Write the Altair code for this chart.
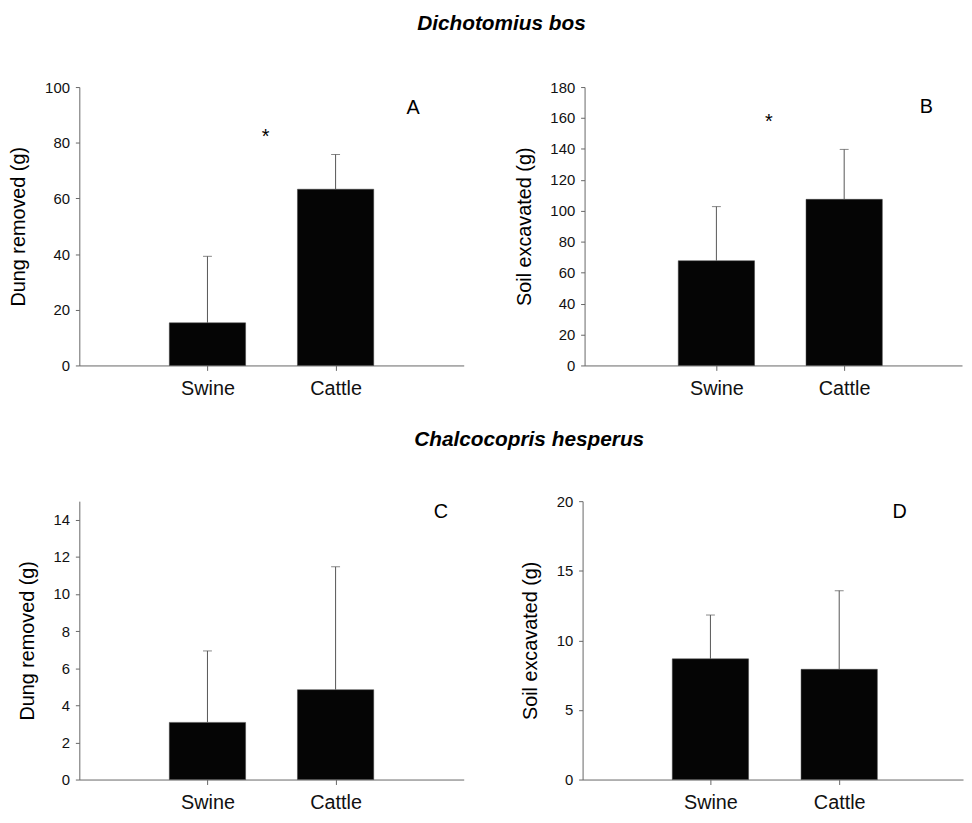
import altair as alt
import pandas as pd

categories = ["Swine", "Cattle"]

# Dichotomius bos
dung_bos_mean = [15.3, 63.3]
dung_bos_upper = [39.2, 75.8]
soil_bos_mean = [67.7, 107.4]
soil_bos_upper = [102.7, 139.7]

# Chalcocopris hesperus
dung_hes_mean = [3.08, 4.84]
dung_hes_upper = [6.93, 11.46]
soil_hes_mean = [8.67, 7.92]
soil_hes_upper = [11.82, 13.57]

FONT = "Liberation Sans"
AXIS_GRAY = "#666666"
ERR_GRAY = "#555555"


def panel(means, uppers, ytitle, ymax, ticks, letter, letter_px, star_px, width, padding, align):
    df = pd.DataFrame({"cat": categories, "mean": means, "upper": uppers})
    xenc = alt.X(
        "cat:N", sort=categories, title=None,
        scale=alt.Scale(type="point", padding=padding, align=align),
        axis=alt.Axis(labelAngle=0, labelFontSize=20, labelFont=FONT, labelColor="#111111",
                      labelPadding=8, tickSize=5, tickColor=AXIS_GRAY, domainColor=AXIS_GRAY,
                      domainWidth=1, tickWidth=1),
    )
    yscale = alt.Scale(domain=[0, ymax], nice=False, zero=True)
    yaxis = alt.Axis(values=ticks, grid=False, labelOverlap=False, labelFontSize=15, labelFont=FONT,
                     labelColor="#111111", labelPadding=6, tickSize=4, tickColor=AXIS_GRAY,
                     domainColor=AXIS_GRAY, domainWidth=1, tickWidth=1,
                     titleFontSize=20, titleFont=FONT, titleFontWeight="normal",
                     titleColor="#000000", titlePadding=16)
    y_mean = alt.Y("mean:Q", title=ytitle, scale=yscale, axis=yaxis)
    y_upper = alt.Y("upper:Q", title=ytitle, scale=yscale, axis=yaxis)
    base = alt.Chart(df)
    bars = base.mark_bar(size=77, color="#050505", stroke="#444444", strokeWidth=0.5).encode(x=xenc, y=y_mean)
    rule = base.mark_rule(color=ERR_GRAY, strokeWidth=1).encode(x=xenc, y=y_mean, y2="upper:Q")
    cap = base.mark_tick(color=ERR_GRAY, size=9, thickness=1, orient="horizontal").encode(x=xenc, y=y_upper)
    layers = [bars, rule, cap]
    lab = alt.Chart(pd.DataFrame({"t": [letter]})).mark_text(
        font=FONT, fontSize=20, color="#000000", align="center", baseline="middle"
    ).encode(x=alt.value(letter_px[0]), y=alt.value(letter_px[1]), text="t:N")
    layers.append(lab)
    if star_px is not None:
        star = alt.Chart(pd.DataFrame({"t": ["*"]})).mark_text(
            font=FONT, fontSize=20, color="#000000", align="center", baseline="alphabetic"
        ).encode(x=alt.value(star_px[0]), y=alt.value(star_px[1]), text="t:N")
        layers.append(star)
    return alt.layer(*layers).properties(width=width, height=281)


pA = panel(dung_bos_mean, dung_bos_upper, "Dung removed (g)", 100, [0, 20, 40, 60, 80, 100],
           "A", (337, 21), (188, 56), 388, 1.0, 0.5)
pB = panel(soil_bos_mean, soil_bos_upper, "Soil excavated (g)", 180,
           [0, 20, 40, 60, 80, 100, 120, 140, 160, 180],
           "B", (345, 20), (186, 41), 381, 0.977, 0.528)
pC = panel(dung_hes_mean, dung_hes_upper, "Dung removed (g)", 15, [0, 2, 4, 6, 8, 10, 12, 14],
           "C", (365, 11), None, 388, 1.0, 0.5)
pD = panel(soil_hes_mean, soil_hes_upper, "Soil excavated (g)", 20, [0, 5, 10, 15, 20],
           "D", (320, 11), None, 384, 0.977, 0.508)

row1 = alt.hconcat(pA, pB, spacing=122, bounds="flush",
                   title=alt.TitleParams("Dichotomius bos", anchor="start", frame="group", dx=341,
                                         offset=46, fontSize=21, font=FONT, fontStyle="italic",
                                         fontWeight="bold", color="#000000"))
row2 = alt.hconcat(pC, pD, spacing=120, bounds="flush",
                   title=alt.TitleParams("Chalcocopris hesperus", anchor="start", frame="group", dx=338,
                                         offset=44, fontSize=21, font=FONT, fontStyle="italic",
                                         fontWeight="bold", color="#000000"))

# nested flush rows report no height of their own, so the gap holds one plot height
chart = alt.vconcat(row1, row2, spacing=418, bounds="flush").properties(
    padding={"left": 0, "top": 1, "right": 0, "bottom": 0}
).configure_view(stroke="transparent").configure_axisY(labelOverlap=False)

chart.save("out.html", embed_options={"renderer": "svg", "actions": False})
